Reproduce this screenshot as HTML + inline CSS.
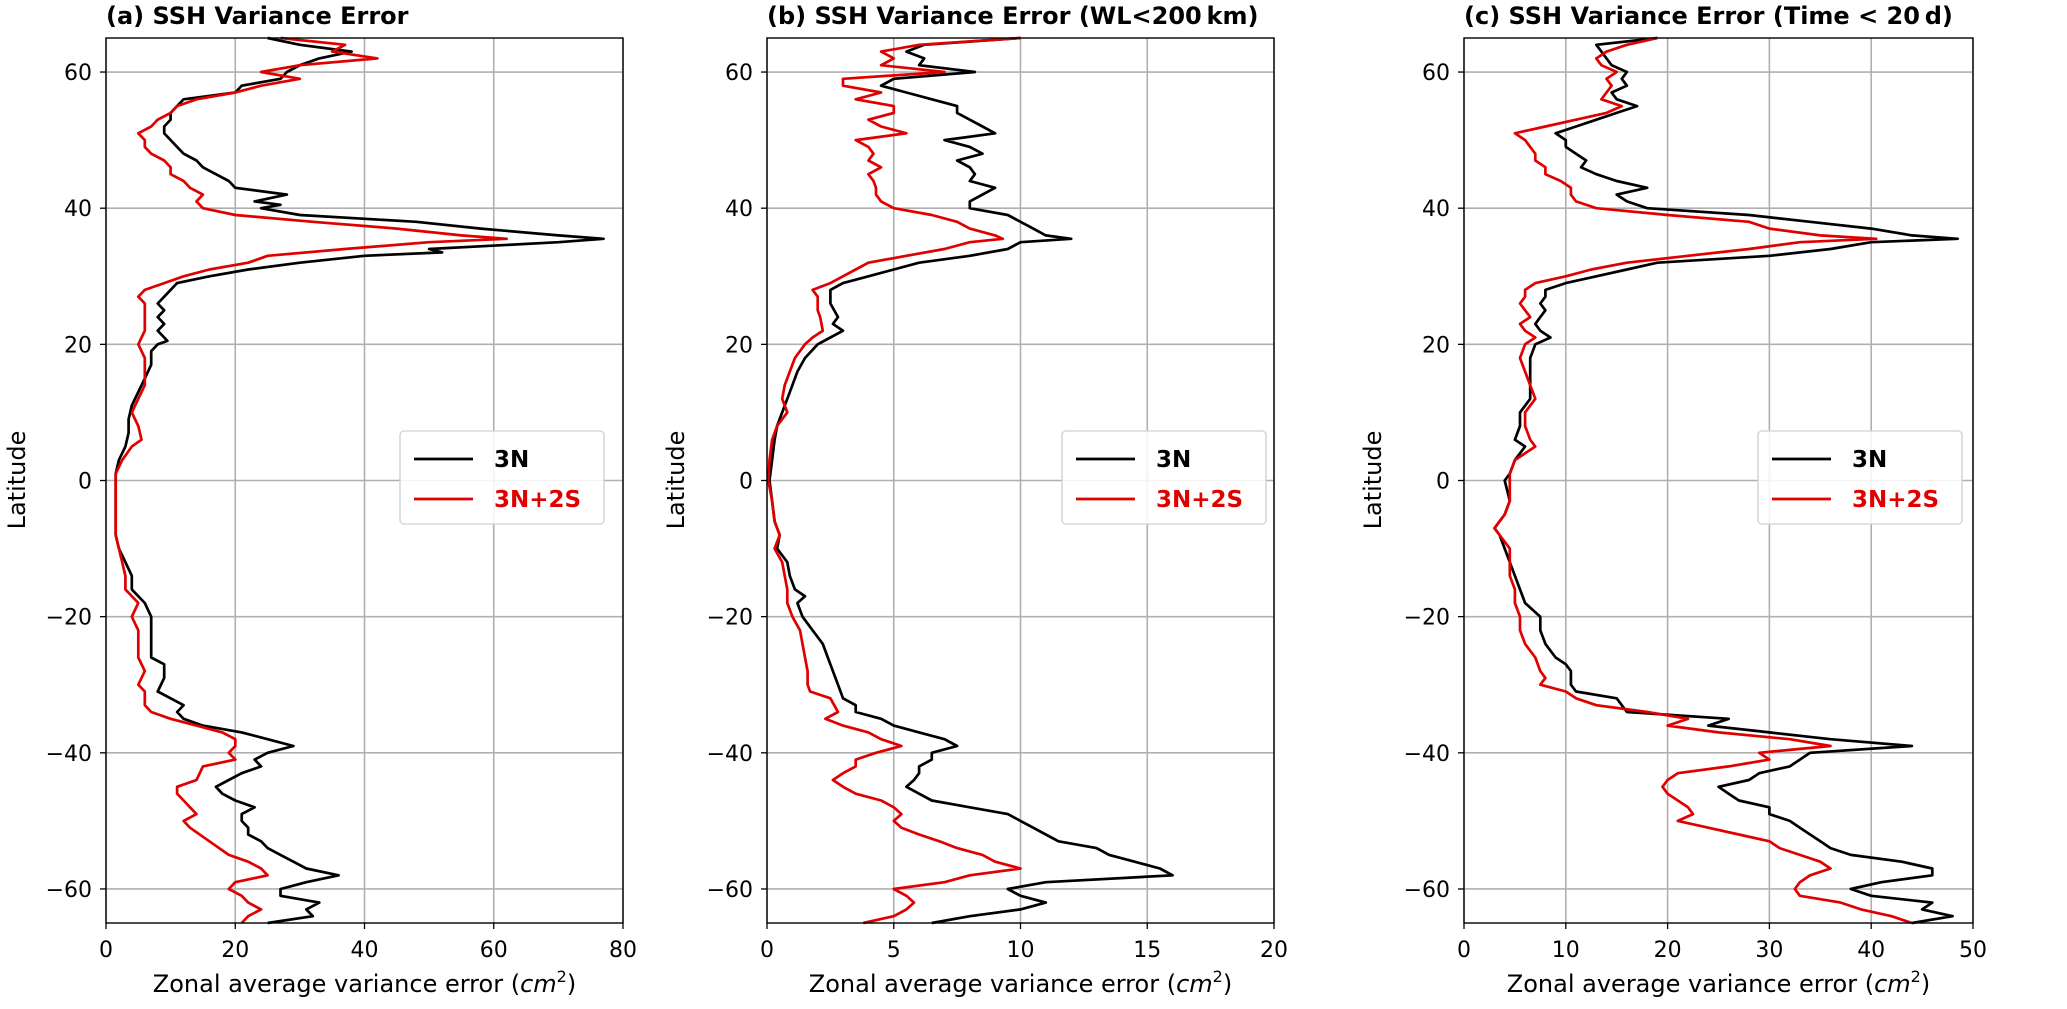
<!DOCTYPE html>
<html><head><meta charset="utf-8"><style>
html,body{margin:0;padding:0;background:#fff}
svg{display:block}
text{font-family:"DejaVu Sans","Liberation Sans",sans-serif}
</style></head><body>
<svg id="fig" width="2067" height="1009" viewBox="0 0 2067 1009" xmlns="http://www.w3.org/2000/svg"></svg>
<script>
const latTicks=[-60,-40,-20,0,20,40,60];
const xTicksA=[0,20,40,60,80];
const xTicksB=[0,5,10,15,20];
const xTicksC=[0,10,20,30,40,50];
const titles=["(a) SSH Variance Error","(b) SSH Variance Error (WL<200\u2009km)","(c) SSH Variance Error (Time < 20\u2009d)"];
const seriesNames=["3N","3N+2S"];
const a3N=[[65,25],[64,30],[63,38],[62,33],[61,30],[60,28],[59,27],[58,21],[57,20],[56,12],[55,11],[54,10],[53,10],[52,9],[51,9],[50,10],[49,11],[48,12],[47,14],[46,15],[45,17],[44,19],[43,20],[42,28],[41,23],[40.5,27],[40,24],[39,30],[38,48],[37,58],[36,70],[35.5,77],[35,70],[34,50],[33.5,52],[33,40],[32,30],[31,22],[30,16],[29,11],[28,10],[27,9],[26,8],[25,9],[24,8],[23,9],[22,8],[21,9],[20.5,9.5],[20,8],[19,7],[17,7],[15,6],[13,5],[11,4],[9,3.5],[7,3.5],[5,3],[3,2],[1,1.5],[0,1.5],[-3,1.5],[-6,1.5],[-8,1.5],[-10,2],[-12,3],[-14,4],[-16,4],[-18,6],[-20,7],[-22,7],[-24,7],[-26,7],[-27,9],[-29,9],[-31,8],[-32,10],[-33,12],[-34,11],[-35,12],[-36,15],[-37,21],[-38,25],[-39,29],[-40,25],[-41,23],[-42,24],[-43,21],[-44,19],[-45,17],[-46,18],[-47,20],[-48,23],[-49,21],[-50,21],[-51,22],[-52,22],[-53,24],[-54,25],[-55,27],[-56,29],[-57,31],[-58,36],[-59,31],[-60,27],[-61,27],[-62,33],[-63,31],[-64,32],[-65,25]];
const a3N2S=[[65,27],[64,37],[63,35],[62,42],[61,30],[60,24],[59,30],[58,24],[57,20],[56,14],[55,11],[54,10],[53,8],[52,7],[51,5],[50,6],[49,6],[48,7],[47,9],[46,10],[45,10],[44,12],[43,13],[42,15],[41,14],[40,15],[39,20],[38,32],[37,45],[36,55],[35.5,62],[35,50],[34,37],[33,25],[32,22],[31,16],[30,12],[29,9],[28,6],[27,5],[26,6],[24,6],[22,6],[20,5],[18,6],[16,6],[14,6],[12,5],[10,4],[8,5],[6,5.5],[5,4],[3,2.5],[1,1.5],[0,1.5],[-4,1.5],[-8,1.5],[-10,2],[-12,2.5],[-14,3],[-16,3],[-18,5],[-20,4],[-22,5],[-24,5],[-26,5],[-28,6],[-30,5],[-31,6],[-33,6],[-34,7],[-35,10],[-36,14],[-37,18],[-38,20],[-39,20],[-40,19],[-41,20],[-42,15],[-44,14],[-45,11],[-46,11],[-47,12],[-48,13],[-49,14],[-50,12],[-51,13],[-53,16],[-55,19],[-56,22],[-57,24],[-58,25],[-59,20],[-60,19],[-61,21],[-62,22],[-63,24],[-64,22],[-65,21]];
const b3N=[[65,10],[64,6.2],[63,5.5],[62,6.2],[61,6],[60,8.2],[59,5],[58,4.5],[57,5.5],[56,6.5],[55,7.5],[54,7.5],[53,8],[52,8.5],[51,9],[50,7],[49,8],[48,8.5],[47,7.5],[46,8],[45,8.2],[44,8],[43,9],[42,8.5],[41,8],[40,8],[39,9.5],[38,10],[37,10.5],[36,11],[35.5,12],[35,10],[34,9.5],[33,8],[32,6],[31,5],[30,4],[29,3],[28,2.5],[26,2.5],[24,2.8],[23,2.6],[22,3],[21,2.5],[20,2],[18,1.5],[16,1.2],[14,1],[12,0.8],[10,0.6],[8,0.4],[6,0.3],[3,0.2],[0,0.1],[-3,0.2],[-6,0.3],[-8,0.5],[-10,0.4],[-12,0.8],[-14,0.9],[-16,1.1],[-17,1.5],[-18,1.2],[-20,1.4],[-22,1.8],[-24,2.2],[-26,2.4],[-28,2.6],[-30,2.8],[-32,3],[-33,3.5],[-34,3.5],[-35,4.5],[-36,5],[-37,6],[-38,7],[-39,7.5],[-40,6.5],[-41,6.5],[-42,6],[-43,6],[-44,5.8],[-45,5.5],[-46,6],[-47,6.5],[-48,8],[-49,9.5],[-50,10],[-51,10.5],[-52,11],[-53,11.5],[-54,13],[-55,13.5],[-56,14.5],[-57,15.5],[-58,16],[-59,11],[-60,9.5],[-61,10],[-62,11],[-63,10],[-64,8],[-65,6.5]];
const b3N2S=[[65,10],[64,6],[63,4.5],[62,5],[61,4.5],[60,7],[59,3],[58,3],[57,4.5],[56,3.5],[55,5],[54,5],[53,4],[52,4.5],[51,5.5],[50,3.5],[49,4],[48,4.2],[47,4],[46,4.5],[45,4],[44,4.2],[43,4.3],[42,4.3],[41,4.5],[40,5],[39,6.5],[38,7.5],[37,8],[36,9],[35.5,9.3],[35,8],[34,7],[33,5.5],[32,4],[31,3.5],[30,3],[29,2.5],[28,1.8],[27,2],[25,2],[24,2.1],[22,2.2],[21,1.8],[20,1.5],[18,1.1],[16,0.9],[14,0.7],[12,0.6],[10,0.8],[8,0.4],[6,0.2],[3,0.1],[0,0.05],[-3,0.2],[-6,0.3],[-8,0.5],[-10,0.3],[-12,0.6],[-14,0.7],[-16,0.8],[-18,0.8],[-20,1],[-22,1.3],[-24,1.4],[-26,1.5],[-28,1.6],[-30,1.6],[-31,1.7],[-32,2.5],[-34,2.8],[-35,2.3],[-36,3],[-37,4],[-38,4.5],[-39,5.3],[-40,4.3],[-41,3.5],[-42,3.5],[-43,3],[-44,2.6],[-45,3],[-46,3.5],[-47,4.5],[-48,5],[-49,5.3],[-50,5],[-51,5.3],[-52,6],[-53,6.8],[-54,7.5],[-55,8.5],[-56,9],[-57,10],[-58,8],[-59,7],[-60,5],[-61,5.5],[-62,5.8],[-63,5.5],[-64,5],[-65,3.8]];
const c3N=[[65,19],[64,13],[63,13.5],[62,14],[61,14.5],[60,16],[59,15.5],[58,16],[57,14.5],[56,15],[55,17],[54,15],[53,13],[52,11],[51,9],[50,10],[49,10],[48,11],[47,12],[46,11.5],[45,13],[44,15],[43,18],[42,15],[41,16],[40,18],[39,28],[38,34],[37,40],[36,44],[35.5,48.5],[35,40],[34,36],[33,30],[32,19],[31,16],[30,13],[29,10],[28,8],[27,8],[26,7.5],[25,8],[24,7.5],[23,7],[22,7.5],[21,8.5],[20,7],[18,6.5],[16,6.5],[14,6.5],[12,6.5],[10,5.5],[8,5.5],[6,5],[5,6],[3,5],[1,4.5],[0,4],[-3,4.5],[-5,4],[-7,3],[-8,3.5],[-10,4],[-12,4.5],[-14,5],[-16,5.5],[-18,6],[-20,7.5],[-22,7.5],[-24,8],[-26,9],[-27,10],[-28,10.5],[-30,10.5],[-31,11],[-32,15],[-33,15.5],[-34,16],[-35,26],[-36,24],[-37,30],[-38,36],[-39,44],[-40,34],[-41,33],[-42,32],[-43,29],[-44,28],[-45,25],[-46,26],[-47,27],[-48,30],[-49,30],[-50,32],[-51,33],[-52,34],[-53,35],[-54,36],[-55,38],[-56,43],[-57,46],[-58,46],[-59,41],[-60,38],[-61,40],[-62,46],[-63,45],[-64,48],[-65,44]];
const c3N2S=[[65,19],[64,16],[63,14],[62,13],[61,13.5],[60,15],[59,14],[58,14.5],[57,14],[56,13.5],[55,15.5],[54,14],[53,11],[52,8],[51,5],[50,6],[49,6.5],[48,7],[47,7],[46,8],[45,8],[44,9.5],[43,10.5],[42,10.5],[41,11],[40,13],[39,20],[38,28],[37,30],[36,35],[35.5,40.5],[35,33],[34,28],[33,22],[32,16],[31,12.5],[30,10],[29,7],[28,6],[27,6],[26,5.5],[25,6],[24,6.5],[23,5.5],[22,6],[21,7],[20,6],[18,5.5],[16,6],[14,6.5],[12,7],[10,6],[8,6],[6,6.5],[5,7],[3,5],[1,4.5],[0,4.5],[-3,4.5],[-5,4],[-7,3],[-8,3.5],[-10,4.5],[-12,4.5],[-14,4.5],[-16,5],[-18,5],[-20,5.5],[-22,5.5],[-24,6],[-26,7],[-28,7.5],[-29,8],[-30,7.5],[-31,10],[-32,11],[-33,13],[-34,18],[-35,22],[-36,20],[-37,25],[-38,32],[-39,36],[-40,29],[-41,30],[-42,26],[-43,21],[-44,20],[-45,19.5],[-46,20],[-47,21],[-48,22],[-49,22.5],[-50,21],[-51,24],[-52,27],[-53,30],[-54,31],[-55,33],[-56,35],[-57,36],[-58,34],[-59,33],[-60,32.5],[-61,33],[-62,37],[-63,39],[-64,42],[-65,44]];

const NS="http://www.w3.org/2000/svg";
const svg=document.getElementById('fig');
function mk(tag,attrs,parent,txt){const e=document.createElementNS(NS,tag);for(const k in attrs)e.setAttribute(k,attrs[k]);if(txt!==undefined)e.textContent=txt;(parent||svg).appendChild(e);return e;}
const TOP=38,BOT=923;
const panels=[
 {x0:106,x1:623,xmax:80,ticks:xTicksA,s:[a3N,a3N2S],leg:[400,431],latx:16,id:'a'},
 {x0:767,x1:1274,xmax:20,ticks:xTicksB,s:[b3N,b3N2S],leg:[1062,431],latx:675,id:'b'},
 {x0:1464,x1:1973,xmax:50,ticks:xTicksC,s:[c3N,c3N2S],leg:[1758,431],latx:1372,id:'c'}];
const colors=['#000000','#e00000'];
panels.forEach((p,pi)=>{
 const g=mk('g',{});
 
 
 const X=v=>p.x0+(p.x1-p.x0)*v/p.xmax;
 const Y=l=>TOP+(BOT-TOP)*(65-l)/130;
 p.ticks.forEach(t=>{
  const gl=mk('line',{x1:X(t),x2:X(t),y1:TOP,y2:BOT,stroke:'#b0b0b0','stroke-width':1.6},g);
  
  
  mk('line',{x1:X(t),x2:X(t),y1:BOT,y2:BOT+6,stroke:'#000','stroke-width':1.3},g);
  const tl=mk('text',{x:X(t),y:957,'font-size':22,'text-anchor':'middle'},g,String(t));
  
  
 });
 latTicks.forEach(t=>{
  const gl=mk('line',{x1:p.x0,x2:p.x1,y1:Y(t),y2:Y(t),stroke:'#b0b0b0','stroke-width':1.6},g);
  
  
  mk('line',{x1:p.x0-6,x2:p.x0,y1:Y(t),y2:Y(t),stroke:'#000','stroke-width':1.3},g);
  const tl=mk('text',{x:p.x0-14,y:Y(t)+8,'font-size':22,'text-anchor':'end'},g,(t<0?'\u2212'+(-t):String(t)));
  
  
 });
 p.s.forEach((ser,si)=>{
  const d=ser.map((q,i)=>(i?'L':'M')+X(q[1]).toFixed(1)+','+Y(q[0]).toFixed(1)).join('');
  const ln=mk('path',{d:d,fill:'none',stroke:colors[si],'stroke-width':2.7,'stroke-linejoin':'round'},g);
  
  
 });
 const fr=mk('rect',{x:p.x0,y:TOP,width:p.x1-p.x0,height:BOT-TOP,fill:'none',stroke:'#000','stroke-width':1.4},g);
 
 
 const ti=mk('text',{x:p.x0,y:24,'font-size':24,'font-weight':'bold'},g,titles[pi]);
 
 
 const xl=mk('text',{x:(p.x0+p.x1)/2,y:992,'font-size':24,'text-anchor':'middle'},g);
 
 
 xl.innerHTML='Zonal average variance error (<tspan font-style="italic">cm</tspan><tspan dy="-10" font-size="16">2</tspan><tspan dy="10">)</tspan>';
 const yl=mk('text',{x:0,y:0,'font-size':24,'text-anchor':'middle',transform:`translate(${p.latx+9},480) rotate(-90)`},g,'Latitude');
 
 
 const lg=mk('g',{},g);
 
 
 const [lx,ly]=p.leg;
 mk('rect',{x:lx,y:ly,width:204,height:93,rx:4,fill:'#fff','fill-opacity':0.85,stroke:'#d0d0d0','stroke-width':1.3},lg);
 seriesNames.forEach((n,si)=>{
  const yy=ly+28+si*40;
  const le=mk('g',{},lg);
  
  
  mk('line',{x1:lx+14,x2:lx+73,y1:yy,y2:yy,stroke:colors[si],'stroke-width':2.7},le);
  mk('text',{x:lx+94,y:yy+8,'font-size':23,'font-weight':'bold',fill:colors[si]},le,n);
 });
});
</script>
</body></html>
